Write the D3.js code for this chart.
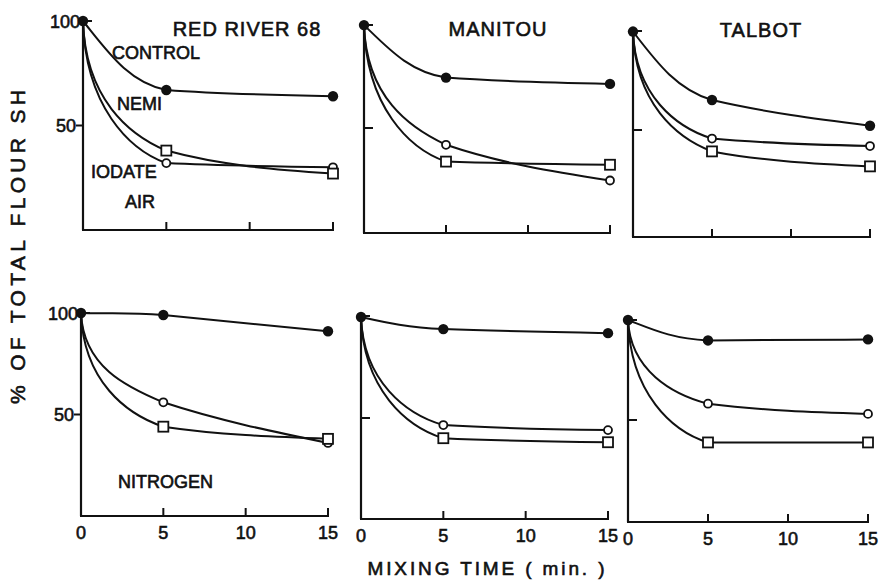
<!DOCTYPE html>
<html>
<head>
<meta charset="utf-8">
<script src="https://cdn.jsdelivr.net/npm/d3@7"></script>
<style>
  html, body { margin: 0; padding: 0; background: #fff; }
  svg { display: block; }
  text { font-family: "Liberation Sans", Arial, sans-serif; fill: #111; stroke: #111; stroke-width: 0.6px; }
</style>
</head>
<body>
<svg id="chart" width="883" height="581"></svg>
<script>
// ---------------- DATA ----------------
const times = [0, 5, 15];
const xTicks = [0, 5, 10, 15];
const yTicks = [50, 100];
const varieties = ["RED RIVER 68", "MANITOU", "TALBOT"];
const atmospheres = ["AIR", "NITROGEN"];
const treatmentLabels = ["CONTROL", "NEMI", "IODATE"];

// % of total flour SH, per variety, at times 0, 5, 15 min
const controlAir  = [[100, 67, 64], [99, 74, 71], [96, 64, 52]];
const circleAir   = [[100, 32, 30], [99, 42, 25], [96, 46, 42.5]];
const squareAir   = [[100, 38, 27], [99, 34, 32.5], [96, 40, 33]];
const controlN2   = [[100, 99, 91], [100, 94, 92], [99, 89, 89.5]];
const circleN2    = [[100, 56, 36], [100, 46.5, 44], [99, 58, 53]];
const squareN2    = [[100, 44, 38], [100, 40, 38], [99, 39, 39]];

// ---------------- LAYOUT ----------------
// per panel frame: x of t=0, x of t=15, y of 0 %, y of 100 %
const frames = [
  [[83, 333, 230, 21], [364, 610, 233, 23], [633, 870, 237, 23]],
  [[81, 328, 516, 313], [361, 608, 519, 317], [628, 868, 522, 318]]
];
const axisTop = [[21, 25, 31], [313, 316, 320]];

const svg = d3.select("#chart");
const ink = "#111";

// hand-drawn style decay curve: steep start, flattening tail
function decayCurve(a, b) {
  return function(context) {
    let pts;
    return {
      areaStart() {}, areaEnd() {},
      lineStart() { pts = []; },
      point(x, y) { pts.push([+x, +y]); },
      lineEnd() {
        const [x0, y0] = pts[0], [x1, y1] = pts[1], [x2, y2] = pts[2];
        const dx0 = x1 - x0, dy0 = y1 - y0, dx1 = x2 - x1;
        const s0 = dy0 / dx0, s1 = (y2 - y1) / dx1;
        const mIn = 0.2 * s0 + 0.8 * s1;
        let mOut = 0;
        if (s1 !== 0 && Math.sign(mIn) === Math.sign(s1)) {
          const cand = 0.5 * (mIn + s1);
          mOut = Math.sign(s1) * Math.min(Math.abs(cand), 2 * Math.abs(s1));
        }
        const mEnd = (3 * s1 - mOut) / 2;
        context.moveTo(x0, y0);
        context.bezierCurveTo(x0 + a * dx0, y0 + b * dy0,
                              x1 - 0.45 * dx0, y1 - 0.45 * dx0 * mIn, x1, y1);
        context.bezierCurveTo(x1 + dx1 / 3, y1 + dx1 / 3 * mOut,
                              x2 - dx1 / 3, y2 - dx1 / 3 * mEnd, x2, y2);
      }
    };
  };
}

const seriesByRow = [
  [controlAir, circleAir, squareAir],
  [controlN2, circleN2, squareN2]
];

frames.forEach((row, r) => {
  row.forEach((f, c) => {
    const [xa, xb, y0, y100] = f;
    const x = d3.scaleLinear().domain([0, 15]).range([xa, xb]);
    const y = d3.scaleLinear().domain([0, 100]).range([y0, y100]);
    const g = svg.append("g");

    // y axis line
    g.append("line").attr("x1", x(0)).attr("x2", x(0))
      .attr("y1", axisTop[r][c]).attr("y2", y(0))
      .attr("stroke", ink).attr("stroke-width", 2.2);
    // x axis line
    g.append("line").attr("x1", x(0) - 1).attr("x2", x(15) + 1)
      .attr("y1", y(0)).attr("y2", y(0))
      .attr("stroke", ink).attr("stroke-width", 2.2);
    // x ticks (inward)
    xTicks.filter(t => t > 0).forEach(t => {
      g.append("line").attr("x1", x(t)).attr("x2", x(t))
        .attr("y1", y(0)).attr("y2", y(0) - 8)
        .attr("stroke", ink).attr("stroke-width", 2);
    });
    // y ticks
    yTicks.forEach(v => {
      const outward = (c === 0 && v === 50);
      const ty = v === 100 ? axisTop[r][c] : y(v);
      g.append("line")
        .attr("x1", outward ? x(0) - 7 : x(0))
        .attr("x2", outward ? x(0) : x(0) + 9)
        .attr("y1", ty).attr("y2", ty)
        .attr("stroke", ink).attr("stroke-width", 2);
    });
    // y tick labels (first column only)
    if (c === 0) {
      yTicks.forEach(v => {
        g.append("text").attr("x", v === 100 ? x(0) - 3 : x(0) - 7)
          .attr("y", y(v) + 6.5).attr("text-anchor", "end")
          .attr("font-size", 18).text(v);
      });
    }
    // x tick labels (bottom row only)
    if (r === 1) {
      xTicks.forEach(t => {
        g.append("text").attr("x", x(t)).attr("y", y(0) + 23)
          .attr("text-anchor", "middle").attr("font-size", 18).text(t);
      });
    }

    const [ctrl, circ, sq] = seriesByRow[r].map(s => s[c]);
    const lineCtrl = d3.line().x((d, i) => x(times[i])).y(d => y(d)).curve(decayCurve(0.3, 0.45));
    const lineOpen = d3.line().x((d, i) => x(times[i])).y(d => y(d)).curve(decayCurve(0.03, 0.6));

    g.append("path").attr("d", lineCtrl(ctrl)).attr("fill", "none")
      .attr("stroke", ink).attr("stroke-width", 2);
    [circ, sq].forEach(s => {
      g.append("path").attr("d", lineOpen(s)).attr("fill", "none")
        .attr("stroke", ink).attr("stroke-width", 2);
    });
    // markers
    ctrl.forEach((v, i) => {
      g.append("circle").attr("cx", x(times[i])).attr("cy", y(v)).attr("r", 5.2).attr("fill", ink);
    });
    circ.forEach((v, i) => {
      if (i === 0) return;
      g.append("circle").attr("cx", x(times[i])).attr("cy", y(v)).attr("r", 4)
        .attr("fill", "#fff").attr("stroke", ink).attr("stroke-width", 1.8);
    });
    sq.forEach((v, i) => {
      if (i === 0) return;
      g.append("rect").attr("x", x(times[i]) - 5).attr("y", y(v) - 5)
        .attr("width", 10).attr("height", 10)
        .attr("fill", "#fff").attr("stroke", ink).attr("stroke-width", 1.8);
    });
  });
});

// panel titles
const titlePos = [[247, 35.5], [498, 36], [761, 37]];
varieties.forEach((v, i) => {
  svg.append("text").attr("x", titlePos[i][0]).attr("y", titlePos[i][1])
    .attr("text-anchor", "middle").attr("font-size", 20)
    .attr("letter-spacing", 1).text(v);
});

// in-panel annotations
svg.append("text").attr("x", 112).attr("y", 58.5).attr("font-size", 18).text(treatmentLabels[0]);
svg.append("text").attr("x", 117).attr("y", 109.5).attr("font-size", 18).text(treatmentLabels[1]);
svg.append("text").attr("x", 91).attr("y", 178).attr("font-size", 18).text(treatmentLabels[2]);
svg.append("text").attr("x", 125).attr("y", 208).attr("font-size", 18).text(atmospheres[0]);
svg.append("text").attr("x", 118).attr("y", 487.5).attr("font-size", 18).text(atmospheres[1]);

// axis titles
svg.append("text").attr("transform", "translate(25,247) rotate(-90)")
  .attr("text-anchor", "middle").attr("font-size", 21)
  .attr("textLength", 314).attr("lengthAdjust", "spacing")
  .text("% OF TOTAL FLOUR SH");
svg.append("text").attr("x", 486).attr("y", 575)
  .attr("text-anchor", "middle").attr("font-size", 19)
  .attr("textLength", 237).attr("lengthAdjust", "spacing")
  .text("MIXING TIME ( min. )");
</script>
</body>
</html>
